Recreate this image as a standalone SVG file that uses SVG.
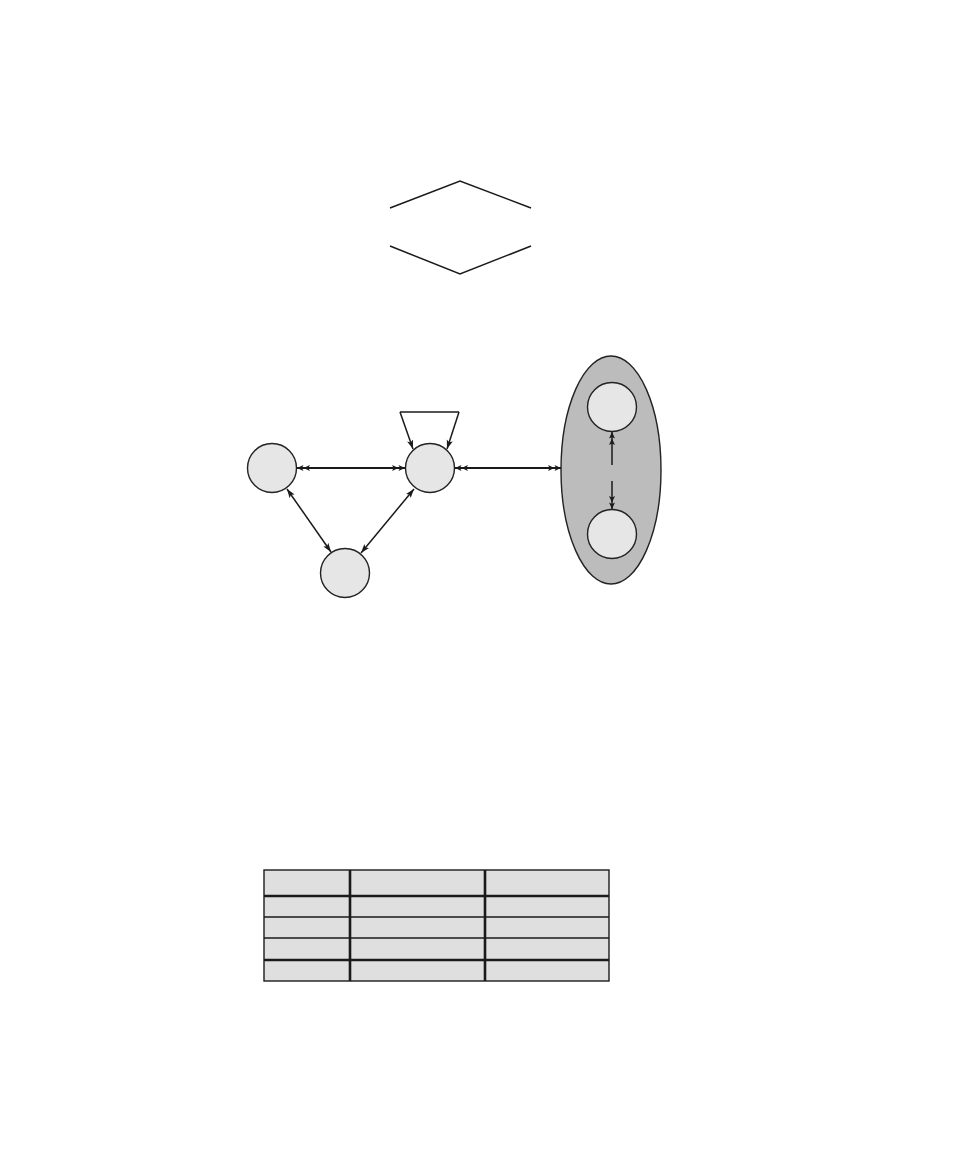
<svg xmlns="http://www.w3.org/2000/svg" width="959" height="1159" viewBox="0 0 959 1159">
<style>
.node{fill:#e6e6e6;stroke:#222;stroke-width:1.4}
.edge{fill:none;stroke:#1a1a1a;stroke-width:1.9}
.thin{fill:none;stroke:#1a1a1a;stroke-width:1.5}
.cell{fill:#dfdfdf;stroke:#1a1a1a;stroke-width:1.4}
.tl{stroke:#1a1a1a;stroke-width:1.4}
.tk{stroke:#1a1a1a;stroke-width:2.6}
</style>
<defs>
<marker id="dbl" viewBox="0 0 13 7" markerWidth="13" markerHeight="7" refX="13" refY="3.5" orient="auto-start-reverse" markerUnits="userSpaceOnUse">
<path d="M0,0.5 L6.5,3.5 L0,6.5 L1.6,3.5 Z M6.5,0.5 L13,3.5 L6.5,6.5 L8.1,3.5 Z" fill="#1a1a1a"/>
</marker>
<marker id="sgl" viewBox="0 0 9 7" markerWidth="9" markerHeight="7" refX="9" refY="3.5" orient="auto-start-reverse" markerUnits="userSpaceOnUse">
<path d="M0,0.4 L9,3.5 L0,6.6 L2,3.5 Z" fill="#1a1a1a"/>
</marker>
</defs>
<rect width="959" height="1159" fill="#ffffff"/>
<g id="diamond">
<polyline class="thin" points="390,208 460,181 531,208"/>
<polyline class="thin" points="390,246 460,274 531,246"/>
</g>
<g id="group-ellipse">
<ellipse cx="611" cy="470" rx="50" ry="114" fill="#bcbcbc" stroke="#222" stroke-width="1.4"/>
</g>
<g id="node-left"><circle class="node" cx="272" cy="468" r="24.5"/></g>
<g id="node-center"><circle class="node" cx="430" cy="468" r="24.5"/></g>
<g id="node-bottom"><circle class="node" cx="345" cy="573" r="24.5"/></g>
<g id="node-inner-top"><circle class="node" cx="612" cy="407" r="24.5"/></g>
<g id="node-inner-bottom"><circle class="node" cx="612" cy="534" r="24.5"/></g>
<g id="connectors">
<line class="edge" x1="297" y1="468" x2="405" y2="468" marker-start="url(#dbl)" marker-end="url(#dbl)"/>
<line class="edge" x1="455" y1="468" x2="561" y2="468" marker-start="url(#dbl)" marker-end="url(#dbl)"/>
<line class="thin" x1="287" y1="489" x2="331" y2="552" marker-start="url(#sgl)" marker-end="url(#sgl)"/>
<line class="thin" x1="414" y1="489" x2="361" y2="553" marker-start="url(#sgl)" marker-end="url(#sgl)"/>
<line class="thin" x1="612" y1="465" x2="612" y2="432" marker-end="url(#dbl)"/>
<line class="thin" x1="612" y1="481" x2="612" y2="509" marker-end="url(#dbl)"/>
<line class="thin" x1="400" y1="412" x2="459" y2="412" stroke="#555"/>
<line class="thin" x1="400" y1="412" x2="413" y2="449" marker-end="url(#sgl)"/>
<line class="thin" x1="459" y1="412" x2="447" y2="449" marker-end="url(#sgl)"/>
</g>
<g id="table">
<rect class="cell" x="264" y="870" width="345" height="111"/>
<line class="tk" x1="350" y1="870" x2="350" y2="981"/>
<line class="tk" x1="485" y1="870" x2="485" y2="981"/>
<line class="tk" x1="264" y1="896" x2="609" y2="896"/>
<line class="tl" x1="264" y1="917" x2="609" y2="917"/>
<line class="tl" x1="264" y1="938" x2="609" y2="938"/>
<line class="tk" x1="264" y1="960" x2="609" y2="960"/>
</g>
</svg>
